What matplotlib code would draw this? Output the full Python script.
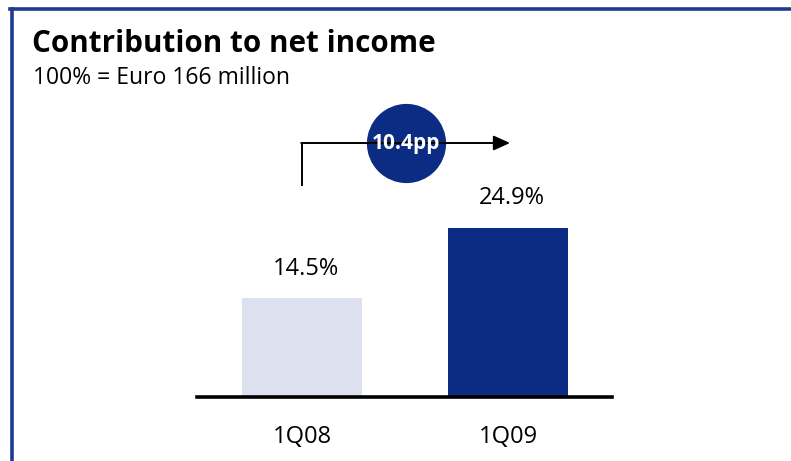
import matplotlib.pyplot as plt
from matplotlib.lines import Line2D

# data
quarters = ['1Q08', '1Q09']
share = [14.5, 24.9]
delta_label = '10.4pp'
title = 'Contribution to net income'
subtitle = '100% = Euro 166 million'

navy = '#0c2c84'
pale = '#dde0ee'
frame_blue = '#1f3c92'

plt.rcParams['font.family'] = ['Open Sans', 'DejaVu Sans']

W, H = 791, 461
fig = plt.figure(figsize=(W / 100, H / 100), dpi=100)

def px(x, y):
  # pixel (from top-left) to figure fraction
  return x / W, 1 - y / H

# frame: top rule and left rule
fig.add_artist(Line2D([10 / W, 1], [1 - 9 / H] * 2, color=frame_blue, lw=2.6))
fig.add_artist(Line2D([11.5 / W] * 2, [0, 1 - 9 / H], color=frame_blue, lw=2.6))

fig.text(*px(32, 44), title, fontsize=21.3, fontweight='bold', va='center', ha='left')
fig.text(*px(33, 78), subtitle, fontsize=16.5, va='center', ha='left')

# bar axes: x from 197 to 612 px, baseline at 397 px
left, right, base, top = 197, 612, 397, 100
ax = fig.add_axes([left / W, 1 - base / H, (right - left) / W, (base - top) / H])
ppu = 6.8  # pixels per percentage point
ax.set_ylim(0, (base - top) / ppu)
ax.set_xlim(-0.51, 1.505)
xs = list(range(len(quarters)))
ax.bar(xs, share, width=0.587, color=[pale, navy])
for x, v in zip(xs, share):
  ax.text(x + 0.02, v + 4.3, '{:.1f}%'.format(v), ha='center', va='center', fontsize=17)

for s in ['top', 'right', 'left']:
  ax.spines[s].set_visible(False)
ax.spines['bottom'].set_linewidth(2.6)
ax.set_yticks([])
ax.set_xticks(xs)
ax.set_xticklabels(quarters, fontsize=17)
ax.tick_params(axis='x', length=0, pad=20)

# change arrow from first to second bar
y_low, y_high = (base - 185) / ppu, (base - 143) / ppu
ax.plot([xs[0], xs[0]], [y_low, y_high], color='black', lw=1.4, clip_on=False)
ax.annotate('', xy=(xs[1] + 0.01, y_high), xytext=(xs[0] - 0.004, y_high),
            arrowprops=dict(arrowstyle='-|>,head_length=1.0,head_width=0.45',
                            color='black', lw=1.4, shrinkA=0, shrinkB=0),
            annotation_clip=False)
mid = (xs[0] + xs[1]) / 2 + 0.005
ax.plot(mid, y_high, 'o', ms=56, color=navy, clip_on=False)
ax.text(mid, y_high, delta_label, color='white', fontsize=15, fontweight='bold',
        ha='center', va='center')

fig.savefig('out.png', dpi=100)
